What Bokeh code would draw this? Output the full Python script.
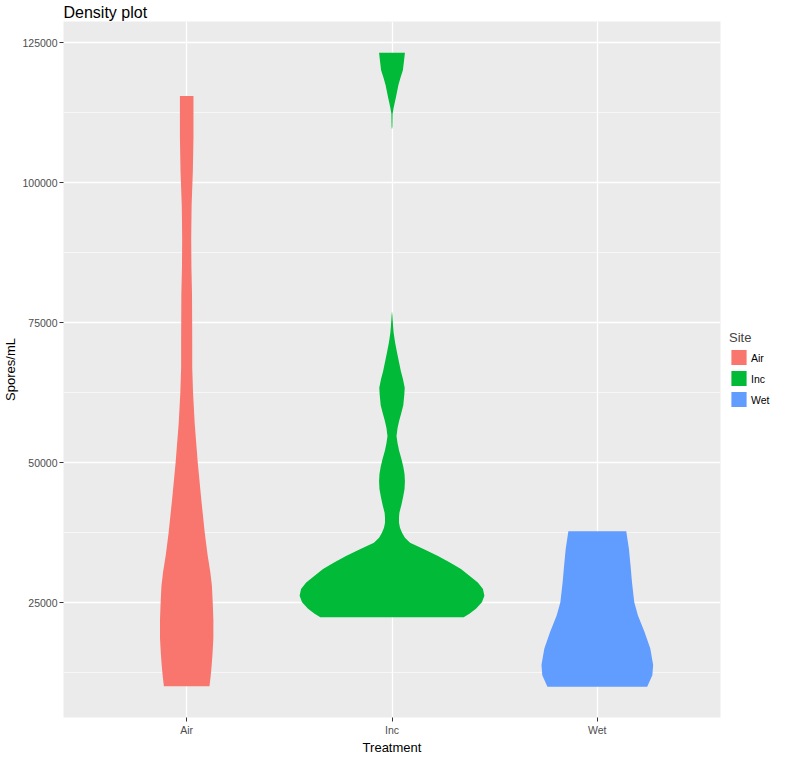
from bokeh.plotting import figure
from bokeh.models import Range1d, FixedTicker, Legend, LegendItem
from bokeh.embed import file_html
from bokeh.resources import INLINE

# ---- data ----
categories = ["Air", "Inc", "Wet"]
colors = ["#F8766D", "#00BA38", "#619CFF"]

# violin outlines: spore values (top -> bottom) and half-widths in category units
air_spores = [115500, 108000, 102000, 96000, 90000, 85000, 80000, 72000, 67000,
              62500, 57000, 50000, 43500, 37500, 35500, 33500, 30500, 28000, 25000,
              22000, 18700, 16000, 14000, 12000, 10100]
air_halfwidth = [0.033, 0.033, 0.030, 0.024, 0.022, 0.023, 0.026, 0.027, 0.027,
                 0.031, 0.039, 0.054, 0.071, 0.088, 0.095, 0.102, 0.115, 0.123, 0.127,
                 0.130, 0.130, 0.126, 0.122, 0.117, 0.111]

inc_spores = [123200, 121600, 120100, 118700, 117400, 115400, 113400, 112300, 110000, 109500,
              77000, 76300, 74500, 73200, 71500, 69800, 68000, 66400, 65000, 63400, 62200,
              60300, 59000, 57500, 56200, 54800, 53500, 52100, 50700, 49300, 48000, 46700,
              45300, 43900, 42500, 41100, 40200, 39300, 38400, 37500, 36640, 35740, 35160,
              34570, 33390, 32200, 31030, 29840, 28650, 27480, 26290, 25100, 23940, 23050, 22450]
inc_halfwidth = [0.063, 0.058, 0.053, 0.041, 0.031, 0.020, 0.008, 0.003, 0.002, 0.0,
                 0.0, 0.002, 0.005, 0.008, 0.015, 0.024, 0.034, 0.043, 0.053, 0.062, 0.060,
                 0.055, 0.046, 0.035, 0.027, 0.022, 0.027, 0.035, 0.046, 0.055, 0.061, 0.063,
                 0.061, 0.054, 0.046, 0.036, 0.034, 0.034, 0.039, 0.049, 0.063, 0.088, 0.122,
                 0.156, 0.224, 0.282, 0.336, 0.377, 0.418, 0.443, 0.450, 0.438, 0.409, 0.377, 0.349]

wet_spores = [37800, 34600, 31600, 28650, 25100, 22750, 19800, 16850, 13900, 12100, 10050]
wet_halfwidth = [0.141, 0.154, 0.162, 0.169, 0.180, 0.198, 0.230, 0.258, 0.272, 0.268, 0.243]

y_ticks = [25000, 50000, 75000, 100000, 125000]
y_tick_labels = ["25000", "50000", "75000", "100000", "125000"]
y_minor = [12500, 37500, 62500, 87500, 112500]

FONT = "Liberation Sans"

p = figure(frame_width=657, frame_height=696, output_backend="svg", toolbar_location=None,
           x_range=Range1d(0.4, 3.6), y_range=Range1d(4540, 128780),
           title="Density plot", min_border_left=10, min_border_right=0,
           min_border_top=0, min_border_bottom=0)

p.background_fill_color = "#EBEBEB"
p.border_fill_color = "white"
p.outline_line_color = None

p.title.text_font = FONT
p.title.text_font_size = "16px"
p.title.text_font_style = "normal"
p.title.text_color = "black"
p.title.offset = 0
p.title.standoff = 2

# axes
p.xaxis.ticker = FixedTicker(ticks=[1, 2, 3])
p.xaxis.major_label_overrides = {i + 1: c for i, c in enumerate(categories)}
p.yaxis.ticker = FixedTicker(ticks=y_ticks, minor_ticks=y_minor)
p.yaxis.major_label_overrides = dict(zip(y_ticks, y_tick_labels))
p.xaxis.axis_label = "Treatment"
p.yaxis.axis_label = "Spores/mL"
for ax in (p.xaxis[0], p.yaxis[0]):
    ax.axis_line_color = None
    ax.major_tick_line_color = "#333333"
    ax.major_tick_out = 4
    ax.major_tick_in = 0
    ax.minor_tick_out = 0
    ax.minor_tick_in = 0
    ax.minor_tick_line_color = None
    ax.major_label_text_font = FONT
    ax.major_label_text_font_size = "10.5px"
    ax.major_label_text_color = "#4D4D4D"
    ax.major_label_standoff = 2
    ax.axis_label_text_font = FONT
    ax.axis_label_text_font_size = "13px"
    ax.axis_label_text_font_style = "normal"
    ax.axis_label_text_color = "black"
    ax.axis_label_standoff = 1

# grid
p.xgrid.grid_line_color = "white"
p.xgrid.grid_line_width = 1.3
p.ygrid.grid_line_color = "white"
p.ygrid.grid_line_width = 1.3
p.ygrid.minor_grid_line_color = "white"
p.ygrid.minor_grid_line_width = 0.6

# violins
groups = [(air_spores, air_halfwidth), (inc_spores, inc_halfwidth), (wet_spores, wet_halfwidth)]
items = []
for i, (cat, col, (sp, hw)) in enumerate(zip(categories, colors, groups)):
    c = i + 1
    xs = [c + w for w in hw] + [c - w for w in reversed(hw)]
    ys = list(sp) + list(reversed(sp))
    r = p.patch(xs, ys, fill_color=col, line_color=None)
    items.append(LegendItem(label=cat, renderers=[r]))

legend = Legend(items=items, title="Site", location="center_left")
legend.title_text_font = FONT
legend.title_text_font_size = "13px"
legend.title_text_font_style = "normal"
legend.title_standoff = 3
legend.label_text_font = FONT
legend.label_text_font_size = "10.5px"
legend.label_text_color = "black"
legend.label_standoff = 3
legend.glyph_width = 19
legend.glyph_height = 19
legend.spacing = 2
legend.padding = 2
legend.margin = 9
legend.border_line_color = None
legend.background_fill_alpha = 0
p.add_layout(legend, "right")

open("out.html", "w").write(file_html(p, INLINE))
